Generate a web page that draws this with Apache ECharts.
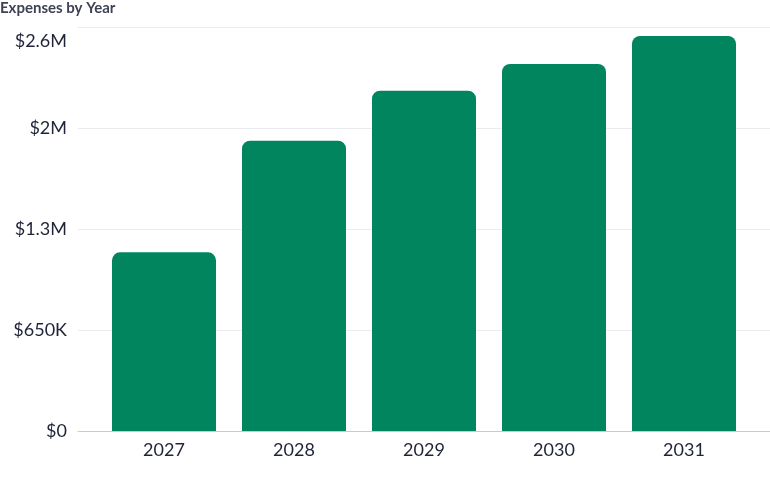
<!DOCTYPE html>
<html>

<head>
    <meta charset="UTF-8">
    <script src="https://cdn.jsdelivr.net/npm/echarts@6.0.0/dist/echarts.min.js"></script>
    <style>
        html, body { margin: 0; padding: 0; background: #fff; }
    </style>
</head>

<body>
    <div id="main" style="width: 770px; height: 477px;"></div>
    <script>
        // data
        const years = ['2027', '2028', '2029', '2030', '2031'];
        const expenses = [1150000, 1868000, 2190000, 2362000, 2542000];
        const yTicks = [0, 650000, 1300000, 1950000, 2600000];
        const yTickLabels = ['$0', '$650K', '$1.3M', '$2M', '$2.6M'];

        const textColor = '#1f2437';
        const barColor = '#00855f';
        const fontFamily = 'Lato, "Noto Sans", sans-serif';

        var myChart = echarts.init(document.getElementById('main'));

        var option = {
            animation: false,
            title: {
                text: 'Expenses by Year',
                left: 0,
                top: 0,
                padding: [1, 0, 0, 0],
                textStyle: {
                    fontFamily: fontFamily,
                    fontSize: 15,
                    fontWeight: 'bold',
                    color: '#3d4354'
                }
            },
            // grid 0 carries the wide gridlines and y labels, grid 1 the bars
            grid: [
                { left: 78, right: 0, top: 27, bottom: 46 },
                { left: 99, right: 21, top: 27, bottom: 46 }
            ],
            xAxis: [
                {
                    type: 'value',
                    gridIndex: 0,
                    min: 0,
                    max: 1,
                    axisLine: { show: true, lineStyle: { color: '#c9c9cf', width: 1 } },
                    axisTick: { show: false },
                    axisLabel: { show: false },
                    splitLine: { show: false }
                },
                {
                    type: 'category',
                    gridIndex: 1,
                    data: years,
                    axisLine: { show: false },
                    axisTick: { show: false },
                    axisLabel: {
                        margin: 10,
                        fontFamily: fontFamily,
                        fontSize: 18,
                        color: textColor
                    }
                }
            ],
            yAxis: [
                {
                    type: 'value',
                    gridIndex: 0,
                    min: yTicks[0],
                    max: yTicks[yTicks.length - 1],
                    interval: yTicks[1] - yTicks[0],
                    axisLine: { show: false },
                    axisTick: { show: false },
                    axisLabel: {
                        margin: 11,
                        fontFamily: fontFamily,
                        fontSize: 18,
                        color: textColor,
                        formatter: function (v) {
                            var i = yTicks.indexOf(v);
                            if (i < 0) return '';
                            // top label sits a bit below its gridline in the reference
                            if (i === yTicks.length - 1) return '{top|' + yTickLabels[i] + '}';
                            return yTickLabels[i];
                        },
                        rich: {
                            top: {
                                fontFamily: fontFamily,
                                fontSize: 18,
                                color: textColor,
                                padding: [28, 0, 0, 0]
                            }
                        }
                    },
                    splitLine: { show: true, lineStyle: { color: '#ebebef', width: 1 } }
                },
                {
                    type: 'value',
                    gridIndex: 1,
                    min: yTicks[0],
                    max: yTicks[yTicks.length - 1],
                    show: false,
                    splitLine: { show: false }
                }
            ],
            series: [
                {
                    type: 'bar',
                    xAxisIndex: 1,
                    yAxisIndex: 1,
                    data: expenses,
                    barWidth: 104,
                    itemStyle: {
                        color: barColor,
                        borderRadius: [8, 8, 0, 0]
                    }
                }
            ]
        };

        option && myChart.setOption(option);
    </script>
</body>

</html>
